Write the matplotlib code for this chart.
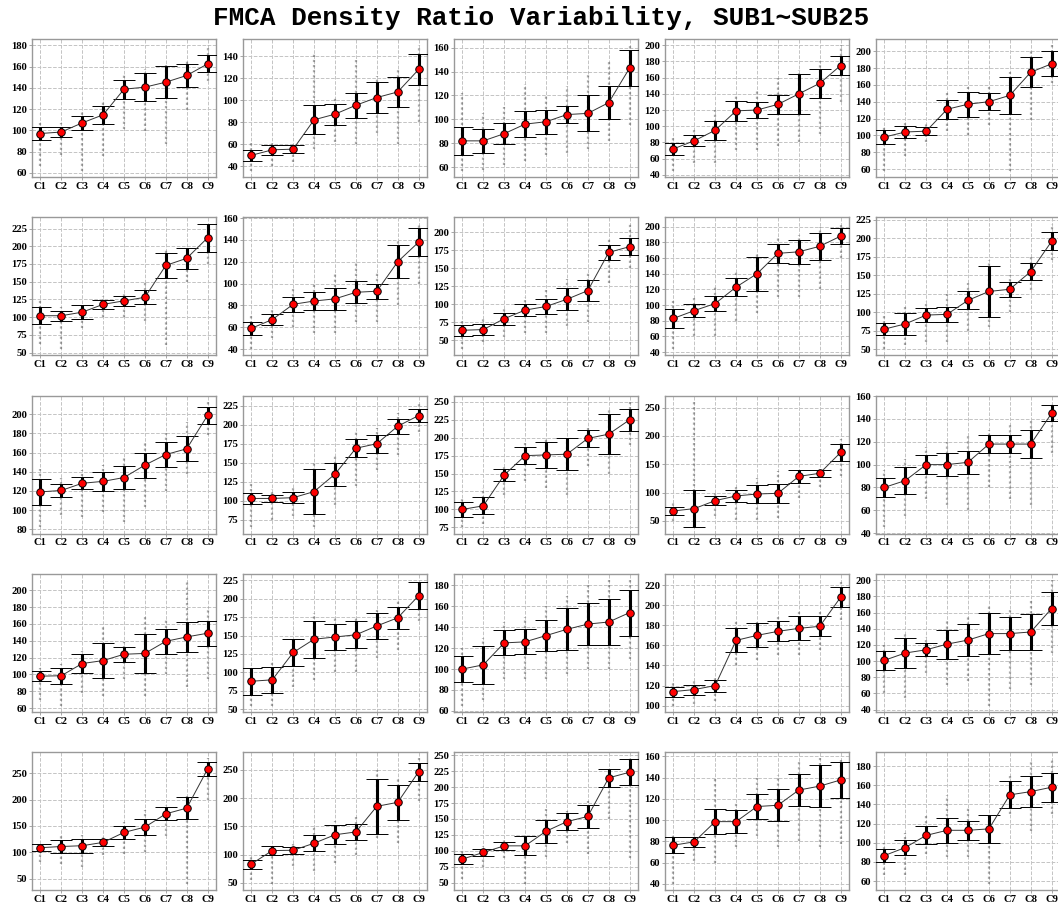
#!/usr/bin/env python3
"""FMCA density ratio variability, one panel per subject (SUB1~SUB25)."""

import matplotlib

matplotlib.use("Agg")
import matplotlib.pyplot as plt
from matplotlib.ticker import MaxNLocator

CATEGORIES = ["C1", "C2", "C3", "C4", "C5", "C6", "C7", "C8", "C9"]

# mean density ratio per category, one row per subject
MEANS = [
    [97, 98.4, 107, 114.6, 138.7, 140.6, 145.3, 151.6, 162.5],
    [50, 55, 55.6, 82.3, 87.4, 95.5, 102.5, 107.6, 128],
    [82, 82, 88, 96, 98, 104, 105, 114, 143],
    [72, 82, 95, 119, 120, 127, 140, 153, 175],
    [98, 104, 105, 131, 137, 140, 147.5, 175, 185],
    [102, 102, 107, 118, 123, 128, 173, 183, 212],
    [59, 67, 81, 84, 86, 92, 93, 120, 138],
    [64, 65, 80, 92, 97, 107, 119, 172, 180],
    [83, 93, 102, 123, 140, 166, 168, 175, 188],
    [77, 84, 96, 97, 116, 128, 131, 155, 196],
    [119, 120.5, 128, 130, 134, 147, 158, 164, 199],
    [103, 103, 104, 112, 135, 169, 175, 198, 212],
    [100, 105, 148, 175, 176, 177, 199, 205, 225],
    [67.6, 71.7, 85.8, 94, 97.5, 98.7, 128.6, 134, 170.8],
    [80, 86, 100, 100, 102, 118, 118, 118, 145],
    [98, 98.5, 113, 116.5, 124, 125, 139.4, 144.6, 149],
    [88, 90, 127, 145, 148, 151, 163, 174, 204],
    [100, 104, 125, 126, 132, 138, 143, 145, 154],
    [114, 116, 120, 165, 170, 174, 177, 179, 208],
    [101, 110, 114, 121, 126, 134, 134, 136, 165],
    [108.7, 111, 112.5, 118.8, 137.7, 147.8, 173, 183.8, 258],
    [83.2, 107, 107.6, 120, 135, 140, 185.3, 192.4, 246.4],
    [87, 97.4, 107.8, 107.8, 130.7, 145.8, 154, 214.6, 223.4],
    [76.4, 79.6, 98.6, 98.6, 112.8, 114, 128.3, 132, 137.8],
    [86.6, 95, 107.7, 113, 113, 114.5, 150, 153.4, 158],
]

# standard deviation (error bar half length)
STDS = [
    [6, 4.5, 6.3, 8.5, 8.8, 13, 15, 11, 8],
    [5, 4.3, 3.5, 13, 9.5, 11.5, 13.8, 13.8, 14.2],
    [12, 10, 9, 11, 10, 7, 15, 14, 15],
    [7, 7, 12, 12, 10, 12, 25, 18, 12],
    [8, 7, 4.5, 11, 15, 10, 22, 18, 15],
    [12, 7, 10, 6, 7, 10, 18, 15, 20],
    [6, 5, 7, 8, 10, 10, 7, 15, 13],
    [8, 8, 8, 8, 10, 15, 15, 10, 12],
    [12, 8, 10, 12, 22, 12, 15, 17, 10],
    [8, 15, 10, 10, 12, 35, 10, 12, 12],
    [13.5, 7, 6.5, 10, 12, 13, 13, 13, 9],
    [7, 5, 7, 30, 15, 12, 12, 10, 8],
    [10, 12, 8, 12, 18, 22, 12, 28, 15],
    [7.6, 33, 8.5, 11, 15.5, 17, 11, 6, 15],
    [8, 12, 8, 10, 10, 8, 8, 12, 7],
    [6, 9.5, 11, 21, 9, 23.5, 14.7, 17.5, 14.7],
    [18, 18, 18, 25, 18, 18, 18, 15, 18],
    [12, 18, 12, 12, 15, 20, 20, 22, 22],
    [5, 5, 6, 12, 12, 10, 12, 10, 10],
    [12, 18, 8, 18, 20, 25, 20, 22, 20],
    [6.5, 13, 13, 6.5, 12.6, 15, 12.6, 21, 14],
    [8, 8.6, 6.5, 14.2, 17, 14, 48.7, 31, 15.8],
    [8, 5, 6, 15, 18.3, 13.3, 17.5, 13.8, 20.6],
    [7.6, 4.5, 11.7, 10.5, 11.4, 15, 15, 20, 17],
    [7, 8, 9.5, 13, 10, 14.5, 14, 16.5, 15],
]

# lowest / highest single sample per category
LOWS = [
    [66, 77, 62, 76, 101, 99, 87, 119, 146],
    [36, 40, 44, 56, 62, 60, 70, 60, 80],
    [57, 58, 62, 65, 70, 72, 75, 82, 95],
    [45, 55, 55, 70, 70, 75, 80, 90, 130],
    [58, 75, 92, 105, 100, 112, 58, 118, 162],
    [62, 55, 85, 100, 100, 95, 60, 150, 175],
    [40, 50, 60, 55, 55, 65, 65, 80, 100],
    [38, 48, 55, 60, 60, 70, 75, 130, 150],
    [44, 60, 60, 80, 90, 110, 110, 120, 160],
    [50, 55, 60, 60, 75, 80, 100, 130, 170],
    [82, 95, 93, 98, 88, 103, 120, 138, 178],
    [65, 75, 80, 65, 95, 120, 140, 160, 190],
    [75, 80, 120, 140, 130, 120, 160, 150, 190],
    [50, 40, 58, 52, 52, 55, 90, 110, 130],
    [45, 55, 70, 65, 60, 80, 70, 65, 110],
    [70, 63, 78, 75, 95, 75, 100, 85, 95],
    [55, 55, 80, 90, 100, 100, 120, 130, 170],
    [65, 70, 90, 90, 90, 95, 100, 100, 110],
    [100, 102, 105, 140, 145, 150, 150, 155, 185],
    [60, 55, 85, 70, 75, 45, 65, 70, 110],
    [82, 78, 72, 95, 97, 100, 130, 40, 200],
    [55, 48, 80, 70, 85, 100, 130, 120, 195],
    [55, 75, 88, 48, 90, 112, 95, 150, 88],
    [40, 62, 60, 75, 85, 75, 80, 75, 78],
    [66, 66, 88, 85, 85, 57, 130, 112, 130],
]
HIGHS = [
    [107, 107, 118, 128, 152, 158, 163, 166, 180],
    [61, 62, 62, 142, 104, 137, 122, 128, 150],
    [122, 105, 110, 130, 120, 128, 140, 150, 162],
    [88, 95, 120, 140, 145, 160, 170, 180, 200],
    [110, 115, 113, 150, 158, 158, 175, 202, 207],
    [125, 115, 120, 130, 135, 150, 195, 200, 230],
    [72, 78, 95, 100, 110, 120, 110, 140, 155],
    [80, 80, 95, 110, 120, 135, 145, 190, 212],
    [105, 110, 125, 145, 165, 185, 190, 200, 204],
    [95, 110, 115, 125, 140, 170, 150, 175, 220],
    [143, 134, 142, 147, 156, 170, 180, 192, 213],
    [125, 115, 120, 150, 160, 190, 195, 215, 230],
    [115, 130, 160, 195, 200, 200, 215, 240, 250],
    [85, 260, 100, 112, 125, 138, 142, 143, 195],
    [95, 105, 115, 120, 125, 130, 135, 140, 155],
    [108, 113, 128, 157, 138, 168, 167, 212, 180],
    [110, 115, 145, 180, 175, 175, 185, 200, 225],
    [120, 130, 145, 150, 160, 170, 180, 185, 185],
    [125, 125, 130, 185, 185, 190, 195, 195, 225],
    [120, 135, 130, 150, 155, 170, 165, 175, 200],
    [120, 132, 133, 132, 157, 180, 190, 207, 278],
    [100, 118, 118, 152, 160, 168, 250, 235, 270],
    [100, 107, 117, 127, 165, 162, 178, 230, 245],
    [88, 88, 140, 118, 140, 142, 155, 158, 158],
    [100, 110, 130, 150, 137, 128, 170, 185, 188],
]

TITLE = "FMCA Density Ratio Variability, SUB1\u223cSUB25"


def draw_panel(ax, means, stds, lows, highs):
    x = list(range(len(CATEGORIES)))
    # sample spread, drawn as a faint dotted column
    ax.vlines(x, lows, highs, colors="#444444", linestyles=(0, (1, 1.3)),
              linewidth=1.6, alpha=0.45, zorder=2)
    ax.errorbar(x, means, yerr=stds, fmt="-", color="#333333", linewidth=0.7,
                ecolor="black", elinewidth=2.2, capsize=8, capthick=0.8,
                marker="o", markersize=5.4, markerfacecolor="red",
                markeredgecolor="black", markeredgewidth=0.7, zorder=3)
    ax.set_xticks(x)
    ax.set_xticklabels(CATEGORIES)
    ax.yaxis.set_major_locator(MaxNLocator(nbins=9, steps=[1, 2, 2.5, 5, 10]))
    ax.grid(True, linestyle="--", color="#c4c4c4", linewidth=0.7)
    ax.set_axisbelow(True)
    for spine in ax.spines.values():
        spine.set_color("#999999")
        spine.set_linewidth(1.0)
    ax.tick_params(axis="both", length=2, width=0.6, color="#999999", pad=1.5,
                   labelsize=7.7)


def main():
    fig = plt.figure(figsize=(10.58, 9.05), dpi=100)
    W, H = 1058.0, 905.0
    for i in range(25):
        row, col = divmod(i, 5)
        left = 32 + 211 * col
        top = 39 + 178.3 * row
        ax = fig.add_axes([left / W, 1 - (top + 138) / H, 184 / W, 138 / H])
        draw_panel(ax, MEANS[i], STDS[i], LOWS[i], HIGHS[i])

    fig.text(0.511, 1 - 18 / H, TITLE, ha="center", va="center",
             family=["Liberation Mono", "DejaVu Sans Mono"], fontweight="bold",
             fontsize=18.7)
    # tick labels need to be styled after the locators have run
    fig.canvas.draw()
    for ax in fig.axes:
        for label in ax.get_xticklabels() + ax.get_yticklabels():
            label.set_fontfamily("Liberation Serif")
            label.set_fontweight("bold")
    fig.savefig("out.png", dpi=100)
    plt.close(fig)


if __name__ == "__main__":
    main()
